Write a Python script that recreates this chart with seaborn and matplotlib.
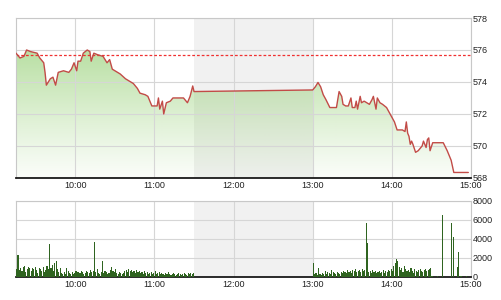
import numpy as np
import pandas as pd
import matplotlib
matplotlib.use("Agg")
import matplotlib.pyplot as plt
import seaborn as sns

# ---------------- data ----------------
am_times = ["09:15","09:18","09:21","09:23","09:26","09:31","09:33","09:36","09:37","09:38",
            "09:41","09:43","09:45","09:47","09:51","09:55","09:57","09:59",
            "10:01","10:02","10:04","10:06","10:09","10:11","10:12","10:14","10:17","10:21",
            "10:24","10:26","10:28","10:30","10:34","10:38","10:40","10:44","10:47","10:49",
            "10:53","10:55","10:58",
            "11:02","11:03","11:04","11:06","11:07","11:09","11:12","11:14","11:17",
            "11:22","11:25","11:27","11:29","11:30"]
am_prices = [575.8,575.5,575.6,576.0,575.9,575.8,575.5,575.2,574.6,573.8,
             574.2,574.3,573.8,574.6,574.7,574.6,574.8,575.2,
             574.7,575.3,575.3,575.8,576.0,575.9,575.3,575.8,575.7,575.6,
             575.2,575.4,574.8,574.7,574.5,574.2,574.1,573.9,573.6,573.3,
             573.2,573.1,572.5,
             572.5,573.0,572.3,572.8,572.0,572.7,572.8,573.0,573.0,
             573.0,572.7,573.1,573.75,573.4]

pm_times = ["13:00","13:02","13:04","13:06","13:08","13:10","13:13","13:15","13:18","13:20",
            "13:22","13:23","13:25","13:27","13:29","13:30","13:32","13:33","13:34","13:36",
            "13:37","13:39","13:41","13:43","13:45","13:46","13:48","13:49","13:51","13:53",
            "13:56","13:58","14:00","14:02","14:04","14:06","14:08","14:10","14:11","14:12",
            "14:13","14:14","14:15","14:16","14:18","14:20","14:22","14:23","14:24","14:26",
            "14:27","14:28","14:29","14:31","14:32","14:39","14:42","14:45","14:47","14:58"]
pm_prices = [573.5,573.7,573.97,573.7,573.2,572.9,572.4,572.4,572.4,573.4,
             573.1,572.6,572.5,572.5,573.0,572.4,572.4,572.8,572.3,573.1,
             572.7,572.8,572.7,572.6,572.9,573.1,572.3,573.0,572.7,572.6,
             572.4,572.1,571.8,571.5,571.0,571.0,571.0,570.9,571.5,570.8,
             570.6,570.1,570.3,570.1,569.6,569.7,569.9,570.0,570.3,569.9,
             570.4,570.5,569.7,570.2,570.2,570.2,569.7,569.1,568.34,568.34]

reference_price = 575.7

vol_am_start = "09:15"
vol_am = [800,2300,700,900,600,1000,1100,500,800,1000,
          900,600,900,800,1000,700,400,900,800,600,
          1000,500,700,1200,800,3500,900,1300,600,1500,
          1700,800,500,900,400,300,500,300,900,600,
          400,300,500,300,400,600,500,500,400,600,
          500,300,400,600,500,400,700,500,600,3700,
          500,800,400,300,500,1700,400,600,500,300,
          400,700,1000,600,500,800,400,300,500,400,
          300,400,600,700,500,800,600,700,500,600,
          400,700,500,600,400,500,300,600,400,500,
          300,400,500,300,400,600,300,400,500,300,
          400,300,200,400,300,500,300,200,300,400,
          300,200,300,400,300,200,300,400,300,200,
          400,300,400,300,400]
vol_pm_start = "13:00"
vol_pm = [1500,300,400,200,900,300,200,400,300,600,
          300,500,400,300,700,500,400,300,500,400,
          300,500,400,600,500,400,700,500,600,400,
          700,600,800,500,600,700,500,800,600,700,
          5700,3600,500,600,400,700,500,600,400,500,
          600,400,500,700,400,600,500,700,600,800,
          600,1200,1500,1900,1700,1000,700,900,500,1200,
          800,600,700,500,900,600,400,800,600,500,
          700,800,600,500,700,800,600,700,800,900,
          100,0,0,0,100,0,0,0,6500,0,
          0,0,0,0,0,5700,4200,0,0,1000,
          2600,0,100,0,0,0,100,0,0,0]

x_ticks = ["10:00","11:00","12:00","13:00","14:00","15:00"]
price_ticks = [568, 570, 572, 574, 576, 578]
vol_ticks = [0, 2000, 4000, 6000, 8000]
session_start, session_end = "09:15", "15:00"
lunch_start, lunch_end = "11:30", "13:00"


def to_min(s):
    h, m = s.split(":")
    return int(h) * 60 + int(m)


price_df = pd.DataFrame({
    "t": [to_min(s) for s in am_times + pm_times],
    "price": am_prices + pm_prices,
})
vol_df = pd.DataFrame({
    "t": [to_min(vol_am_start) + i + 0.5 for i in range(len(vol_am))]
         + [to_min(vol_pm_start) + i + 0.5 for i in range(len(vol_pm))],
    "vol": vol_am + vol_pm,
})

# ---------------- style ----------------
sns.set_style("white")
plt.rcParams["font.family"] = ["Liberation Sans", "DejaVu Sans"]

LINE = "#c24b47"
GRID = "#d6d6d6"
FRAME = "#c8c8c8"

fig = plt.figure(figsize=(5.01, 3.0), dpi=100)
ax1 = fig.add_axes([0.032, 0.407, 0.908, 0.533])
ax2 = fig.add_axes([0.032, 0.077, 0.908, 0.253])

x0, x1 = to_min(session_start), to_min(session_end)
xt = [to_min(s) for s in x_ticks]

for ax in (ax1, ax2):
    ax.set_xlim(x0, x1)
    ax.axvspan(to_min(lunch_start), to_min(lunch_end), color="#f1f1f1", zorder=0, lw=0)
    ax.set_axisbelow("line")
    ax.grid(True, color=GRID, lw=0.8)
    ax.yaxis.tick_right()
    ax.tick_params(axis="both", length=0, labelsize=6.5, colors="#222222")
    ax.tick_params(axis="y", pad=1)
    ax.tick_params(axis="x", pad=2.5)
    for s in ("left", "top", "right"):
        ax.spines[s].set_color(FRAME)
        ax.spines[s].set_linewidth(0.8)
    ax.spines["bottom"].set_color("#1a1a1a")
    ax.spines["bottom"].set_linewidth(1.3)

# ---------------- price panel ----------------
ymin, ymax = price_ticks[0], price_ticks[-1]
ax1.set_ylim(ymin, ymax)

poly = ax1.fill_between(price_df["t"], price_df["price"], ymin, color="none", lw=0)
n = 256
grad = np.zeros((n, 1, 4))
base = np.array([0.56, 0.80, 0.42])
frac = np.linspace(0, 1, n)
grad[:, 0, :3] = base
grad[:, 0, 3] = 0.04 + 0.58 * frac ** 1.1
im = ax1.imshow(grad, aspect="auto", origin="lower",
                extent=[x0, x1, ymin, price_df["price"].max()], zorder=1,
                interpolation="bilinear")
im.set_clip_path(poly.get_paths()[0], transform=ax1.transData)

sns.lineplot(data=price_df, x="t", y="price", ax=ax1, color=LINE, lw=1.0, zorder=3)
ax1.axhline(reference_price, color="#f03030", ls=(0, (2.2, 1.6)), lw=0.9, zorder=2.5)
ax1.set_xlim(x0, x1)
ax1.set_ylim(ymin, ymax)
ax1.set_yticks(price_ticks)
ax1.set_xticks(xt)
ax1.set_xticklabels(x_ticks)
ax1.set_xlabel("")
ax1.set_ylabel("")

# ---------------- volume panel ----------------
sns.histplot(data=vol_df, x="t", weights="vol", binwidth=1, binrange=(x0, x1),
             ax=ax2, color="#2f6420", alpha=1.0, edgecolor="none",
             shrink=0.85, zorder=3)
ax2.set_xlim(x0, x1)
ax2.set_ylim(vol_ticks[0], vol_ticks[-1])
ax2.set_yticks(vol_ticks)
ax2.set_xticks(xt)
ax2.set_xticklabels(x_ticks)
ax2.set_xlabel("")
ax2.set_ylabel("")

fig.savefig("out.png", dpi=100)
